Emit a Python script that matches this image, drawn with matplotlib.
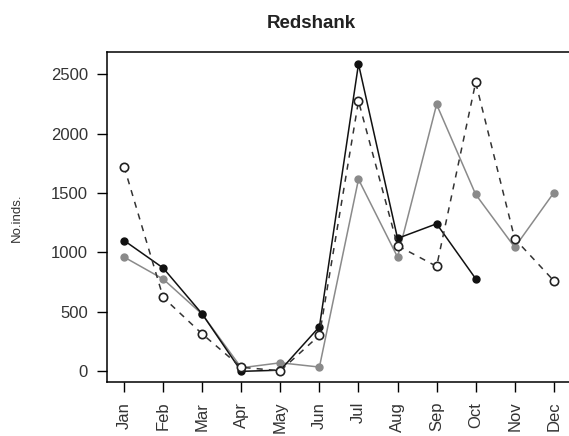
import matplotlib
matplotlib.use("Agg")
from matplotlib import pyplot as plt

months = ["Jan", "Feb", "Mar", "Apr", "May", "Jun",
          "Jul", "Aug", "Sep", "Oct", "Nov", "Dec"]
y_ticks = [0, 500, 1000, 1500, 2000, 2500]

# three years of counts (None = no count)
black_series = [1100, 869, 482, 0, 10, 375, 2585, 1118, 1241, 779, None, None]
gray_series = [961, 776, 480, 30, 72, 36, 1615, 961, 2245, 1488, 1043, 1502]
open_series = [1721, 622, 314, 34, 5, 303, 2273, 1057, 883, 2430, 1115, 762]

plt.rcParams['font.family'] = ['Liberation Sans', 'DejaVu Sans']

fig = plt.figure(figsize=(5.69, 4.36), dpi=100)
ax = fig.add_axes([0.1886, 0.1232, 0.83, 0.7568])

x = list(range(len(months)))


def clean(vals):
    return [float('nan') if v is None else v for v in vals]


ax.plot(x, clean(gray_series), color='#8a8a8a', linewidth=1.1,
        marker='o', markersize=5, markerfacecolor='#8a8a8a',
        markeredgecolor='#8a8a8a', zorder=2)
ax.plot(x, clean(black_series), color='#111111', linewidth=1.1,
        marker='o', markersize=5, markerfacecolor='#111111',
        markeredgecolor='#111111', zorder=3)
ax.plot(x, clean(open_series), color='#333333', linewidth=1.1,
        linestyle=(0, (4, 4)), marker='o', markersize=6,
        markerfacecolor='white', markeredgecolor='#222222',
        markeredgewidth=1.2, zorder=4)

# right edge of the box falls just outside the picture, as in the source
ax.set_xlim(-0.43, 11.66)
ax.set_ylim(-92, 2683)
ax.set_xticks(x)
ax.set_xticklabels(months, rotation=90)
ax.set_yticks(y_ticks)
ax.tick_params(axis='both', direction='out', length=7, width=1,
               pad=7, labelsize=12, labelcolor='#333333')
for s in ax.spines.values():
    s.set_linewidth(1.1)

ax.set_ylabel("No.inds.", fontsize=9.5, color='#333333', labelpad=20)
# the source's title is centred on its original (wider) page, not this crop
fig.text(0.548, 0.947, "Redshank", fontsize=13.5, fontweight='bold',
         color='#222222', ha='center', va='center')

fig.savefig("out.png", dpi=100)
